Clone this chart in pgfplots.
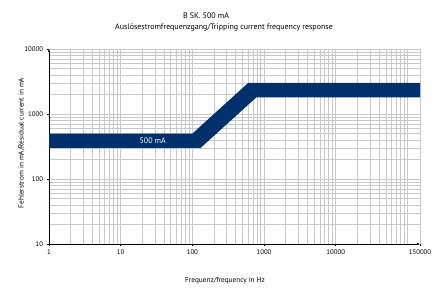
\documentclass[border=0pt]{standalone}
\usepackage{fontspec}
\setmainfont{PT Sans}
\usepackage{pgfplots}
\pgfplotsset{compat=1.18}
\usetikzlibrary{arrows.meta}
\definecolor{band}{RGB}{0,48,107}
\definecolor{gridc}{RGB}{200,200,200}
\begin{document}
\begin{tikzpicture}[x=1bp,y=1bp]
\path[use as bounding box] (-49,-43) rectangle (384,244);
\begin{axis}[
  at={(0,0)}, anchor=south west,
  scale only axis, width=371bp, height=195bp,
  xmode=log, ymode=log,
  xmin=1, xmax=150000, ymin=10, ymax=10000,
  axis lines=left,
  axis line style={black, line width=0.6pt},
  x axis line style={-{Latex[length=3pt,width=2.4pt]}},
  y axis line style={-{Latex[length=3pt,width=2.4pt]}},
  xtick={1,10,100,1000,10000,150000},
  xticklabels={1,10,100,1000,10000,150000},
  ytick={10,100,1000,10000},
  yticklabels={10,100,1000,10000},
  minor xtick={2,3,4,5,6,7,8,9,20,30,40,50,60,70,80,90,200,300,400,500,600,700,800,900,2000,3000,4000,5000,6000,7000,8000,9000,20000,30000,40000,50000,60000,70000,80000,90000,100000},
  minor ytick={20,30,40,50,60,70,80,90,200,300,400,500,600,700,800,900,2000,3000,4000,5000,6000,7000,8000,9000},
  grid=both,
  major grid style={gridc, line width=0.6pt},
  minor grid style={gridc, line width=0.6pt},
  tick style={black, line width=0.5pt},
  major tick length=2.5pt, minor tick length=0pt,
  tick align=outside,
  ticklabel style={font=\fontsize{6.8}{7}\selectfont},
  /pgf/number format/assume math mode=true,
  clip=false,
]
\addplot[fill=band, draw=none] coordinates {(1,300) (130,300) (780,1800) (150000,1800) (150000,3000) (600,3000) (100,500) (1,500)};
\node[white, font=\fontsize{8}{9}\selectfont] at (axis cs:28,387) {500 mA};
\end{axis}
\node[font=\fontsize{8}{9}\selectfont] at (157,228) {B SK. 500 mA};
\node[font=\fontsize{8}{9}\selectfont] at (175,216) {Auslösestromfrequenzgang/Tripping current frequency response};
\node[font=\fontsize{7.3}{8}\selectfont] at (176,-37) {Frequenz/frequency in Hz};
\node[font=\fontsize{7.3}{8}\selectfont, rotate=90] at (-27.5,101) {Fehlerstrom in mA/Residual current in mA};
\end{tikzpicture}
\end{document}
